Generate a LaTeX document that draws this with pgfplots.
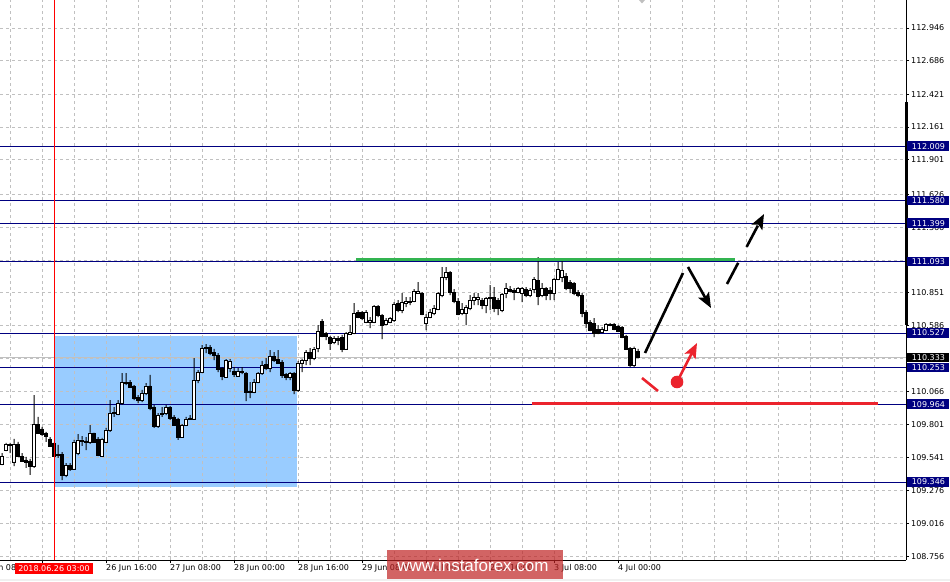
\documentclass[border=0pt]{standalone}
\usepackage{pgfplots}
\pgfplotsset{compat=1.18}
\usepackage{pgfplotstable}
\usepackage{fontspec}
\setmainfont{DejaVu Sans}
\newfontfamily\wmfont{Liberation Sans}
\usetikzlibrary{arrows.meta}

\definecolor{navyline}{RGB}{0,0,128}
\definecolor{boxblue}{RGB}{153,204,255}
\definecolor{gridgray}{RGB}{192,192,192}
\definecolor{lvlgreen}{RGB}{50,180,80}
\definecolor{lvlred}{RGB}{235,35,45}
\definecolor{wmred}{RGB}{191,34,34}

% USDJPY H1: hour index t (0 = 26 Jun 00:00), open high low close
\pgfplotstableread{
t o h l c
-10 109.489 109.576 109.481 109.552
-9 109.600 109.656 109.592 109.648
-8 109.640 109.656 109.576 109.648
-7 109.505 109.688 109.473 109.648
-6 109.648 109.664 109.545 109.552
-5 109.552 109.576 109.505 109.513
-4 109.521 109.545 109.458 109.505
-3 109.513 109.529 109.402 109.473
-2 109.473 110.036 109.458 109.806
-1 109.806 109.862 109.727 109.735
0 109.767 109.783 109.711 109.727
1 109.735 109.743 109.664 109.711
2 109.688 109.703 109.624 109.632
3 109.656 109.656 109.545 109.552
4 109.568 109.640 109.537 109.560
5 109.568 109.584 109.362 109.402
6 109.402 109.497 109.386 109.481
7 109.481 109.497 109.434 109.450
8 109.450 109.680 109.442 109.664
9 109.576 109.727 109.560 109.680
10 109.672 109.711 109.632 109.680
11 109.672 109.703 109.600 109.664
12 109.664 109.798 109.648 109.735
13 109.735 109.735 109.656 109.664
14 109.688 109.703 109.552 109.560
15 109.552 109.696 109.545 109.688
16 109.664 109.775 109.656 109.759
17 109.759 109.996 109.743 109.893
18 109.901 109.941 109.862 109.893
19 109.885 109.996 109.877 109.972
20 109.972 110.210 109.957 110.139
21 110.131 110.210 110.115 110.139
22 110.139 110.155 110.092 110.100
23 110.108 110.115 109.996 110.012
24 110.020 110.036 109.972 109.996
25 109.996 110.076 109.980 110.052
26 110.052 110.131 110.036 110.108
27 110.108 110.195 109.917 109.933
28 109.941 109.957 109.775 109.791
29 109.791 109.893 109.775 109.877
30 109.885 109.941 109.862 109.893
31 109.893 109.957 109.877 109.941
32 109.941 109.949 109.838 109.854
33 109.862 109.877 109.791 109.798
34 109.846 109.854 109.680 109.703
35 109.703 109.806 109.703 109.798
36 109.798 109.862 109.791 109.846
37 109.854 109.877 109.838 109.846
38 109.846 110.329 109.838 110.155
39 110.155 110.234 110.131 110.218
40 110.218 110.432 110.210 110.408
41 110.416 110.440 110.369 110.408
42 110.416 110.432 110.353 110.369
43 110.377 110.401 110.313 110.353
44 110.353 110.369 110.218 110.242
45 110.250 110.258 110.155 110.187
46 110.179 110.321 110.179 110.313
47 110.250 110.321 110.218 110.306
48 110.226 110.258 110.179 110.202
49 110.187 110.250 110.179 110.226
50 110.218 110.258 110.202 110.220
51 110.210 110.218 109.988 110.060
52 110.068 110.139 110.012 110.060
53 110.060 110.163 110.052 110.139
54 110.139 110.218 110.131 110.210
55 110.210 110.306 110.195 110.274
56 110.282 110.329 110.234 110.250
57 110.250 110.393 110.218 110.345
58 110.345 110.377 110.298 110.313
59 110.321 110.393 110.282 110.290
60 110.298 110.313 110.171 110.195
61 110.202 110.210 110.155 110.179
62 110.179 110.218 110.155 110.210
63 110.210 110.218 110.044 110.076
64 110.076 110.306 110.060 110.290
65 110.290 110.321 110.218 110.313
66 110.313 110.393 110.274 110.377
67 110.377 110.408 110.274 110.329
68 110.329 110.416 110.313 110.401
69 110.408 110.591 110.377 110.543
70 110.622 110.638 110.496 110.504
71 110.527 110.535 110.472 110.504
72 110.496 110.504 110.393 110.448
73 110.456 110.504 110.440 110.488
74 110.488 110.504 110.432 110.472
75 110.496 110.512 110.377 110.401
76 110.401 110.535 110.393 110.527
77 110.519 110.591 110.512 110.535
78 110.527 110.765 110.519 110.686
79 110.694 110.710 110.646 110.654
80 110.694 110.702 110.630 110.646
81 110.615 110.710 110.607 110.694
82 110.615 110.654 110.567 110.630
83 110.615 110.749 110.607 110.741
84 110.741 110.749 110.654 110.670
85 110.670 110.678 110.480 110.591
86 110.599 110.646 110.591 110.630
87 110.615 110.654 110.607 110.646
88 110.630 110.773 110.615 110.757
89 110.765 110.789 110.694 110.710
90 110.710 110.844 110.686 110.773
91 110.765 110.813 110.733 110.781
92 110.773 110.813 110.749 110.781
93 110.781 110.876 110.773 110.860
94 110.844 110.931 110.844 110.860
95 110.844 110.852 110.670 110.678
96 110.607 110.678 110.551 110.654
97 110.654 110.718 110.646 110.694
98 110.686 110.749 110.670 110.725
99 110.718 110.852 110.710 110.844
100 110.828 111.050 110.813 110.971
101 110.971 111.050 110.947 111.011
102 111.011 111.019 110.828 110.852
103 110.852 110.876 110.765 110.781
104 110.781 110.805 110.670 110.678
105 110.686 110.765 110.670 110.718
106 110.686 110.749 110.591 110.733
107 110.725 110.828 110.710 110.789
108 110.789 110.844 110.749 110.813
109 110.797 110.844 110.749 110.813
110 110.789 110.805 110.718 110.749
111 110.749 110.813 110.686 110.805
112 110.813 110.907 110.710 110.805
113 110.813 110.892 110.694 110.725
114 110.789 110.805 110.670 110.725
115 110.710 110.844 110.694 110.836
116 110.844 110.923 110.805 110.884
117 110.876 110.900 110.852 110.860
118 110.868 110.884 110.789 110.852
119 110.852 110.892 110.844 110.884
120 110.844 110.892 110.773 110.884
121 110.876 110.892 110.813 110.828
122 110.828 110.884 110.813 110.868
123 110.876 110.971 110.844 110.955
124 110.947 111.130 110.749 110.820
125 110.828 110.923 110.813 110.884
126 110.884 110.892 110.789 110.828
127 110.868 110.892 110.789 110.844
128 110.844 110.963 110.789 110.955
129 110.955 111.090 110.947 111.034
130 110.971 111.098 110.931 111.027
131 110.979 111.003 110.868 110.884
132 110.931 110.947 110.844 110.884
133 110.923 110.931 110.828 110.844
134 110.852 110.868 110.813 110.828
135 110.828 110.844 110.654 110.686
136 110.694 110.710 110.567 110.607
137 110.615 110.630 110.543 110.551
138 110.607 110.646 110.496 110.527
139 110.559 110.591 110.519 110.527
140 110.535 110.575 110.527 110.559
141 110.551 110.607 110.543 110.599
142 110.591 110.607 110.583 110.599
143 110.599 110.607 110.551 110.559
144 110.583 110.591 110.535 110.543
145 110.575 110.583 110.488 110.496
146 110.504 110.512 110.393 110.401
147 110.409 110.416 110.258 110.274
148 110.274 110.420 110.258 110.409
149 110.385 110.401 110.329 110.333
}\candles

\tikzset{lvl/.style={fill=#1, text=white, font=\fontsize{8}{9}\selectfont, inner sep=0pt,
  minimum width=42pt, minimum height=9.5pt, text height=5.8pt, text depth=0pt,
  anchor=west, xshift=1.2pt}}

\begin{document}
\begin{tikzpicture}
\path[use as bounding box] (0pt,0pt) rectangle (950pt,581pt);
\pgfplotsset{chartframe/.style={scale only axis, width=906pt, height=560pt,
  at={(0pt,21pt)}, anchor=south west, enlargelimits=false,
  xmin=-10.5, xmax=216, ymin=108.728, ymax=113.168}}

% blue zone, under the grid
\begin{axis}[chartframe, hide axis]
\addplot[draw=none, fill=boxblue]
  coordinates {(3.25,109.307) (63.75,109.307) (63.75,110.504) (3.25,110.504)} -- cycle;
\end{axis}

% frame, grid and levels
\begin{axis}[chartframe,
  axis x line=bottom, axis y line=right,
  axis line style={-, black, line width=0.8pt},
  tick align=outside, major tick length=3pt, minor tick length=0pt,
  tick style={black, line width=0.8pt},
  xtick={0,16,32,48,64,80,96,112,128,144},
  xticklabels={,26 Jun 16:00,27 Jun 08:00,28 Jun 00:00,28 Jun 16:00,
    29 Jun 08:00,2 Jul 00:00,2 Jul 16:00,3 Jul 08:00,4 Jul 00:00},
  minor xtick={-8,8,24,40,56,72,88,104,120,136,152,160,168,176,184,192,200,208},
  ytick={108.756,109.016,109.276,109.541,109.801,110.066,110.326,110.586,110.851,
    111.106,111.366,111.626,111.901,112.161,112.421,112.686,112.946},
  yticklabels={108.756,109.016,109.276,109.541,109.801,110.066,,110.586,110.851,
    ,111.366,111.626,111.901,112.161,112.421,112.686,112.946},
  grid=both,
  grid style={gridgray, dash pattern=on 3pt off 3pt, line width=0.8pt},
  minor grid style={gridgray, dash pattern=on 3pt off 3pt, line width=0.8pt},
  tick label style={font=\fontsize{8}{9.6}\selectfont},
  xticklabel style={anchor=north west, inner sep=0pt, yshift=-1pt},
  yticklabel style={anchor=west, inner sep=0pt, xshift=2pt},
]
\addplot[gridgray, line width=0.8pt] coordinates {(-10.5,110.333) (216,110.333)};
\pgfplotsinvokeforeach{112.009,111.580,111.399,111.093,110.527,110.253,109.964,109.346}{
  \addplot[navyline, line width=0.8pt] coordinates {(-10.5,#1) (216,#1)};
}
\coordinate (barT) at (axis cs:216,112.357);
\coordinate (barB) at (axis cs:216,110.590);
\coordinate (lA) at (axis cs:216,112.009);
\coordinate (lB) at (axis cs:216,111.580);
\coordinate (lC) at (axis cs:216,111.399);
\coordinate (lD) at (axis cs:216,111.093);
\coordinate (lE) at (axis cs:216,110.527);
\coordinate (lF) at (axis cs:216,110.253);
\coordinate (lG) at (axis cs:216,109.964);
\coordinate (lH) at (axis cs:216,109.346);
\coordinate (lBid) at (axis cs:216,110.333);
\end{axis}

% candles
\begin{axis}[chartframe, hide axis, ybar stacked]
\addplot[draw=none, fill=none, bar width=1pt] table[x=t, y=l] {\candles};
\addplot[fill=black, draw=none, bar width=1pt]
  table[x=t, y expr={min(\thisrow{o},\thisrow{c})-\thisrow{l}}] {\candles};
\addplot[fill=white, draw=black, line width=0.8pt, bar width=2.4pt]
  table[x=t, y expr={max(\thisrow{c}-\thisrow{o},0)}] {\candles};
\addplot[fill=black, draw=black, line width=0.8pt, bar width=2.4pt]
  table[x=t, y expr={max(\thisrow{o}-\thisrow{c},0)}] {\candles};
\addplot[fill=black, draw=none, bar width=1pt]
  table[x=t, y expr={\thisrow{h}-max(\thisrow{o},\thisrow{c})}] {\candles};
\end{axis}

% price labels on the right scale
\draw[line width=3pt] ([xshift=0.6pt]barT) -- ([xshift=0.6pt]barB);
\node[lvl=navyline] at (lA) {112.009};
\node[lvl=navyline] at (lB) {111.580};
\node[lvl=navyline] at (lC) {111.399};
\node[lvl=navyline] at (lD) {111.093};
\node[lvl=navyline] at (lE) {110.527};
\node[lvl=navyline] at (lF) {110.253};
\node[lvl=navyline] at (lG) {109.964};
\node[lvl=navyline] at (lH) {109.346};
\node[lvl=black] at (lBid) {110.333};

% drawn objects
\begin{scope}[x=1pt,y=1pt]
\draw[red, line width=0.8pt] (54,21) -- (54,581);
\draw[lvlgreen, line width=3pt] (356,321) -- (735,321);
\draw[lvlred, line width=3pt] (532,177) -- (878,177);
\draw[black, line width=2.6pt] (645,228) -- (683,308);
\draw[black, line width=2.6pt, -{Stealth[length=15pt,width=12pt,inset=3pt]}] (688,314) -- (711,273);
\draw[black, line width=2.6pt, dash pattern=on 24pt off 18pt,
  -{Stealth[length=15pt,width=12pt,inset=3pt]}] (727,297) -- (764,367);
\draw[lvlred, line width=2.6pt] (642,203) -- (658,190);
\fill[lvlred] (677,199) circle (6.3pt);
\draw[lvlred, line width=2.6pt, -{Stealth[length=15pt,width=12pt,inset=3pt]}] (677,199) -- (697,238);
\fill[gray!50] (639,581) -- (645,581) -- (642,577.5) -- cycle;
\node[anchor=north west, inner sep=0pt, font=\fontsize{8}{9.6}\selectfont] at (-22,17) {25 Jun 08:00};
\node[fill=red, text=white, font=\fontsize{8}{9.6}\selectfont, inner xsep=3pt, inner ysep=2.6pt,
  text height=6pt, text depth=0pt] at (54,12.6) {2018.06.26 03:00};
\fill[gray!12] (0,0) rectangle (950,2.5);
\fill[wmred, opacity=0.7] (387,2) rectangle (563,31);
\node[anchor=base, text=white, inner sep=0pt, font=\wmfont\fontsize{17}{20}\selectfont] at (473,9.5) {www.instaforex.com};
\end{scope}
\end{tikzpicture}
\end{document}
